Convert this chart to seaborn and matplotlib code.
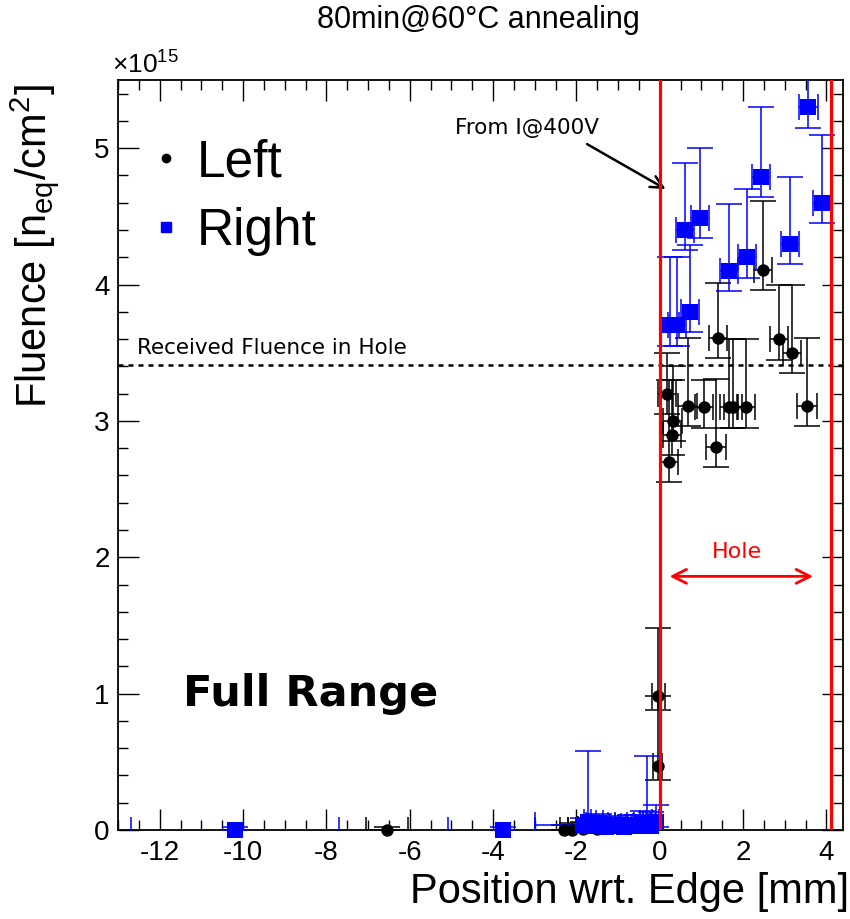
import matplotlib
matplotlib.use('Agg')
import matplotlib.pyplot as plt
from matplotlib.lines import Line2D
from matplotlib.ticker import MultipleLocator
import seaborn as sns
import numpy as np
import pandas as pd

# ---------------- data (fluence in units of 1e15 n_eq/cm^2) ----------------
left_x = [-6.55, -2.3, -2.1, -1.85, -1.5, -1.1, -0.7, -0.3, -0.05, -0.03,
          0.17, 0.22, 0.29, 0.31, 0.67, 1.06, 1.35, 1.40, 1.67, 1.76, 2.07,
          2.48, 2.87, 3.18, 3.54]
left_y = [0.0, 0.0, 0.0, 0.01, 0.01, 0.02, 0.02, 0.03, 0.47, 0.98,
          3.20, 2.70, 2.90, 3.00, 3.11, 3.10, 2.81, 3.61, 3.10, 3.10, 3.10,
          4.11, 3.60, 3.50, 3.11]
left_yerr_up = [0.02, 0.04, 0.05, 0.05, 0.06, 0.06, 0.07, 0.07, 0.51, 0.50,
                0.30, 0.60, 0.40, 0.40, 0.50, 0.20, 0.50, 0.40, 0.50, 0.50, 0.50,
                0.50, 0.40, 0.50, 0.50]
left_yerr_dn = [0.0, 0.0, 0.0, 0.01, 0.01, 0.02, 0.02, 0.03, 0.10, 0.10,
                0.15, 0.15, 0.15, 0.15, 0.15, 0.15, 0.15, 0.15, 0.15, 0.15, 0.15,
                0.15, 0.15, 0.15, 0.15]
left_xerr = [0.5, 0.1, 0.1, 0.1, 0.1, 0.1, 0.1, 0.1, 0.1, 0.15,
             0.22, 0.22, 0.22, 0.22, 0.22, 0.22, 0.25, 0.22, 0.22, 0.22, 0.22,
             0.22, 0.22, 0.22, 0.24]

right_x = [-10.2, -3.75, -1.85, -1.73, -1.6, -1.45, -1.3, -1.15, -1.0, -0.85,
           -0.7, -0.55, -0.4, -0.31, -0.2, -0.1,
           0.24, 0.41, 0.60, 0.72, 0.96, 1.66, 2.10, 2.43, 3.13, 3.57, 3.90]
right_y = [0.0, 0.0, 0.04, 0.06, 0.03, 0.05, 0.02, 0.04, 0.03, 0.02,
           0.04, 0.03, 0.05, 0.04, 0.03, 0.06,
           3.70, 3.70, 4.40, 3.80, 4.49, 4.10, 4.20, 4.79, 4.30, 5.30, 4.60]
right_yerr_up = [0.02, 0.02, 0.05, 0.52, 0.06, 0.07, 0.05, 0.06, 0.05, 0.04,
                 0.07, 0.08, 0.09, 0.50, 0.10, 0.12,
                 0.50, 0.50, 0.49, 0.49, 0.51, 0.49, 0.50, 0.51, 0.49, 0.50, 0.50]
right_yerr_dn = [0.0, 0.0, 0.03, 0.04, 0.02, 0.03, 0.02, 0.03, 0.02, 0.02,
                 0.03, 0.02, 0.03, 0.03, 0.02, 0.04,
                 0.15, 0.15, 0.15, 0.15, 0.15, 0.15, 0.15, 0.15, 0.15, 0.15, 0.15]
right_xerr_lo = [2.5, 1.33, 1.15, 0.08, 0.08, 0.08, 0.08, 0.08, 0.08, 0.08,
                 0.08, 0.08, 0.08, 0.08, 0.08, 0.08,
                 0.22, 0.22, 0.22, 0.22, 0.22, 0.22, 0.22, 0.22, 0.22, 0.22, 0.22]
right_xerr_hi = [2.5, 0.75, 0.08, 0.08, 0.08, 0.08, 0.08, 0.08, 0.08, 0.08,
                 0.08, 0.08, 0.08, 0.08, 0.08, 0.08,
                 0.22, 0.22, 0.22, 0.22, 0.22, 0.22, 0.22, 0.22, 0.22, 0.22, 0.22]

hole_edges = [0.0, 4.1]
received_fluence = 3.41
series_names = ["Left", "Right"]

# ---------------- style ----------------
sns.set_theme(style='ticks')
plt.rcParams['font.family'] = ['Liberation Sans', 'DejaVu Sans']
plt.rcParams['text.color'] = 'black'
plt.rcParams['axes.labelcolor'] = 'black'
plt.rcParams['mathtext.fontset'] = 'custom'
plt.rcParams['mathtext.rm'] = 'Liberation Sans'
plt.rcParams['mathtext.it'] = 'Liberation Sans'

fig = plt.figure(figsize=(8.5, 9.19), dpi=100)
ax = fig.add_axes([118/850, 1-830/919, (843-118)/850, (830-80)/919])

df_l = pd.DataFrame({'x': left_x, 'y': left_y})
df_r = pd.DataFrame({'x': right_x, 'y': right_y})

ekw = dict(fmt='none', elinewidth=1.1, capsize=9.5, capthick=1.1, zorder=3)
ax.errorbar(left_x, left_y, yerr=[left_yerr_dn, left_yerr_up], xerr=left_xerr,
            ecolor='black', **ekw)
ax.errorbar(right_x, right_y, yerr=[right_yerr_dn, right_yerr_up],
            xerr=[right_xerr_lo, right_xerr_hi], ecolor='blue', **ekw)
sns.scatterplot(data=df_l, x='x', y='y', ax=ax, color='black', marker='o',
                s=80, edgecolor='black', linewidth=0, zorder=4, legend=False,
                clip_on=False)
sns.scatterplot(data=df_r, x='x', y='y', ax=ax, color='blue', marker='s',
                s=135, edgecolor='blue', linewidth=0, zorder=5, legend=False,
                clip_on=False)

for xe in hole_edges:
    ax.axvline(xe, color='red', lw=2.3, zorder=6)
ax.axhline(received_fluence, color='black', lw=1.8, ls=(0, (2, 2)), zorder=2)

ax.set_xlim(-13, 4.4)
ax.set_ylim(0, 5.5)
ax.set_xticks([-12, -10, -8, -6, -4, -2, 0, 2, 4])
ax.set_xticklabels(['-12', '-10', '-8', '-6', '-4', '-2', '0', '2', '4'])
ax.set_yticks([0, 1, 2, 3, 4, 5])
ax.xaxis.set_minor_locator(MultipleLocator(0.5))
ax.yaxis.set_minor_locator(MultipleLocator(0.2))
ax.tick_params(which='both', direction='in', top=True, right=True,
               width=1.0, color='black', labelsize=20, labelcolor='black')
ax.tick_params(which='major', length=15)
ax.tick_params(which='minor', length=7.5)
ax.tick_params(axis='x', pad=7)
ax.tick_params(axis='y', pad=6)
for sp in ax.spines.values():
    sp.set_linewidth(1.3)
    sp.set_color('black')
ax.set_xlabel('')
ax.set_ylabel('')

fig.text(849/850, 1-892/919, 'Position wrt. Edge [mm]', ha='right', va='center',
         fontsize=30)
fig.text(35/850, 1-84/919, r'Fluence [n$_{\mathrm{eq}}$/cm$^{\mathrm{2}}$]',
         rotation=90, ha='center', va='top', fontsize=30)
fig.text(478/850, 1-20/919, '80min@60°C annealing', ha='center', va='center',
         fontsize=22)
fig.text(112/850, 1-65/919, r'$\times$10$^{15}$', ha='left', va='center',
         fontsize=19)

ax.text(-12.55, 3.46, 'Received Fluence in Hole', ha='left', va='bottom',
        fontsize=15.5, family=['DejaVu Sans'])
ax.text(-4.92, 5.15, 'From I@400V', ha='left', va='center', fontsize=15.5,
        family=['DejaVu Sans'])
ax.annotate('', xy=(0.2, 4.69), xytext=(-1.8, 5.04),
            arrowprops=dict(arrowstyle='->', color='black', lw=1.8,
                            mutation_scale=22))
ax.annotate('', xy=(0.17, 1.86), xytext=(3.75, 1.86),
            arrowprops=dict(arrowstyle='<->', color='red', lw=2,
                            mutation_scale=25))
ax.text(1.85, 2.04, 'Hole', ha='center', va='center', color='red', fontsize=16,
        family=['DejaVu Sans'])
ax.text(-11.45, 1.0, 'Full Range', ha='left', va='center', fontsize=31,
        fontweight='bold', family=['DejaVu Sans'], color='black')

handles = [Line2D([], [], marker='o', color='black', ls='none', markersize=6),
           Line2D([], [], marker='s', color='blue', ls='none', markersize=7.5)]
ax.legend(handles, series_names, loc='upper left', bbox_to_anchor=(0.02, 0.95),
          frameon=False, fontsize=37, handlelength=0.5, handletextpad=0.35,
          labelspacing=0.38, borderaxespad=0)

fig.savefig('out.png', dpi=100, facecolor='white')
